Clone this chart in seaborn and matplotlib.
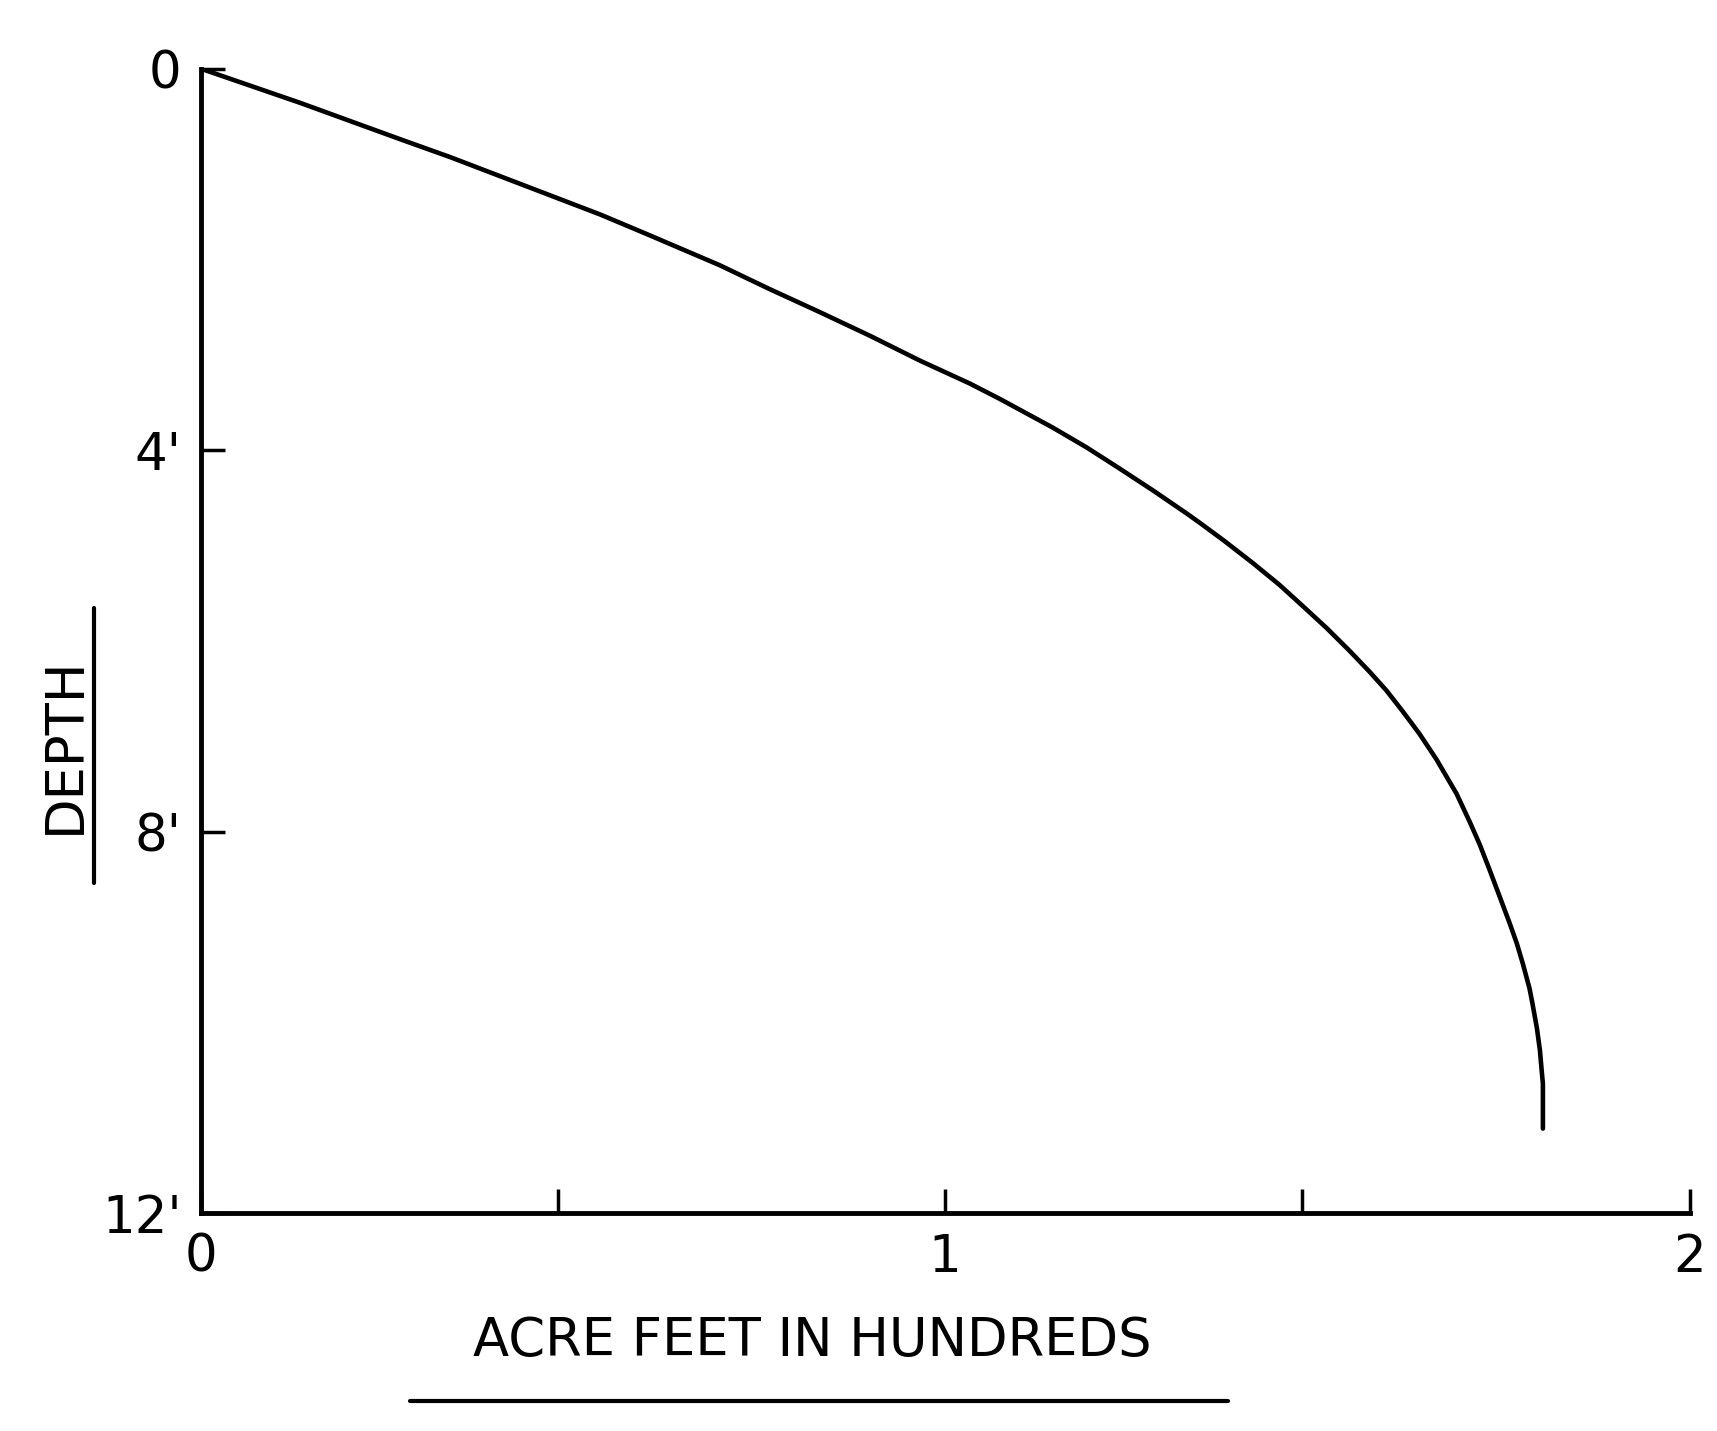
import matplotlib
matplotlib.use("Agg")
import matplotlib.pyplot as plt
import seaborn as sns
import pandas as pd

# curve: acre feet (hundreds) vs depth (feet)
acre_feet = [0.0, 0.067, 0.134, 0.201, 0.268, 0.336, 0.403, 0.470, 0.537, 0.604,
             0.697, 0.764, 0.831, 0.899, 0.966, 1.033, 1.073, 1.144, 1.190,
             1.234, 1.279, 1.324, 1.342, 1.375, 1.413, 1.449, 1.480, 1.512,
             1.543, 1.570, 1.593, 1.615, 1.637, 1.660, 1.687, 1.705, 1.718,
             1.731, 1.745, 1.758, 1.768, 1.776, 1.785, 1.789, 1.795, 1.799,
             1.801, 1.803, 1.803]
depth = [0.0, 0.18, 0.36, 0.55, 0.74, 0.93, 1.13, 1.33, 1.53, 1.75,
         2.06, 2.31, 2.55, 2.80, 3.06, 3.30, 3.46, 3.76, 3.97,
         4.19, 4.42, 4.66, 4.76, 4.95, 5.18, 5.41, 5.63, 5.86,
         6.10, 6.32, 6.52, 6.74, 6.97, 7.24, 7.60, 7.90, 8.13,
         8.39, 8.68, 8.95, 9.17, 9.38, 9.64, 9.80, 10.06, 10.29,
         10.47, 10.64, 11.11]

x_ticks = [0, 0.48, 1, 1.48, 2]
x_tick_labels = ["0", "", "1", "", "2"]
y_ticks = [0, 4, 8, 12]
y_tick_labels = ["0", "4'", "8'", "12'"]

df = pd.DataFrame({"acre_feet": acre_feet, "depth": depth})

sns.set_style("ticks")
plt.rcParams["font.family"] = ["DejaVu Sans"]

fig = plt.figure(figsize=(17.17, 14.31), dpi=100)
ax = fig.add_axes([0.117, 0.152, 0.867, 0.8])

sns.lineplot(data=df, x="acre_feet", y="depth", sort=False, estimator=None,
             color="black", linewidth=3.3, ax=ax)

ax.set_xlim(0, 2)
ax.set_ylim(12, 0)
ax.set_xticks(x_ticks)
ax.set_xticklabels(x_tick_labels)
ax.set_yticks(y_ticks)
ax.set_yticklabels(y_tick_labels)
ax.tick_params(axis="both", direction="in", length=17, width=2.5,
               color="black", labelsize=37, labelcolor="black",
               left=True, bottom=True, top=False, right=False)
ax.tick_params(axis="x", pad=14)
ax.tick_params(axis="y", pad=14)

for side in ["top", "right"]:
    ax.spines[side].set_visible(False)
for side in ["left", "bottom"]:
    ax.spines[side].set_color("black")
    ax.spines[side].set_linewidth(3.5)

ax.set_xlabel("")
ax.set_ylabel("")

# axis titles with hand-drawn underlines
fig.text(0.473, 0.063, "ACRE FEET IN HUNDREDS", ha="center", va="center",
         fontsize=38, color="black")
fig.add_artist(plt.Line2D([0.239, 0.715], [0.021, 0.021], color="black",
                          linewidth=3, transform=fig.transFigure))
fig.text(0.038, 0.479, "DEPTH", ha="center", va="center", rotation=90,
         fontsize=38, color="black")
fig.add_artist(plt.Line2D([0.055, 0.055], [0.383, 0.575], color="black",
                          linewidth=3, transform=fig.transFigure))

fig.savefig("out.png", dpi=100, facecolor="white")
